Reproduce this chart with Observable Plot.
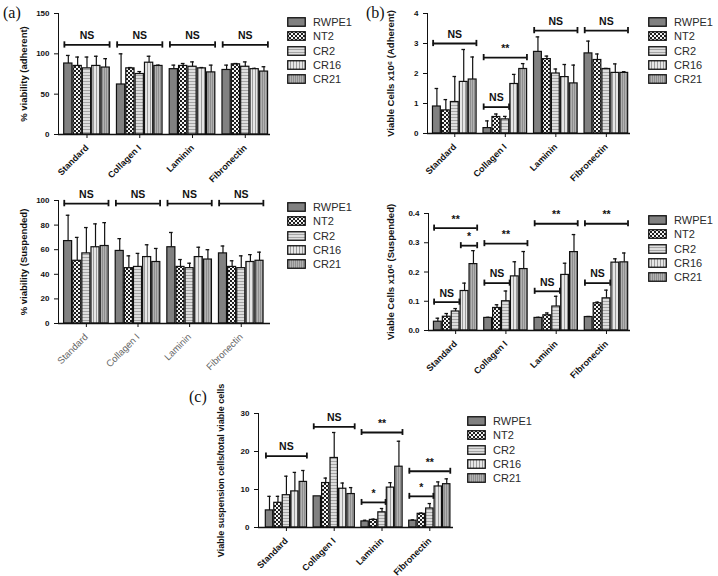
<!DOCTYPE html>
<html><head><meta charset="utf-8">
<script src="https://cdn.jsdelivr.net/npm/d3@7"></script>
<script src="https://cdn.jsdelivr.net/npm/@observablehq/plot@0.6"></script>
<style>
body{margin:0;background:#fff;}
#root{position:relative;width:718px;height:576px;overflow:hidden;font-family:Arial,"Liberation Sans",sans-serif;background:#fff;}
.panel{position:absolute;}
.plab{position:absolute;font-family:"Liberation Serif","Times New Roman",serif;font-size:16px;color:#111;line-height:16px;}
.legend{position:absolute;font-size:11px;color:#2a2a2a;}
.legend .row{display:flex;align-items:center;height:14.3px;}
.legend svg{margin-right:7px;display:block;}
</style></head><body><div id="root">
<svg width="0" height="0" style="position:absolute;left:0;top:0"><defs>
<pattern id="pat0" patternUnits="userSpaceOnUse" width="3" height="3"><rect width="3" height="3" fill="#818181"/></pattern>
<pattern id="pat1" patternUnits="userSpaceOnUse" width="4" height="4"><rect width="4" height="4" fill="#f4f4f4"/><rect width="2" height="2" fill="#1e1e1e"/><rect x="2" y="2" width="2" height="2" fill="#1e1e1e"/></pattern>
<pattern id="pat2" patternUnits="userSpaceOnUse" width="3" height="3"><rect width="3" height="3" fill="#dedede"/><rect width="3" height="1" fill="#a4a4a4"/></pattern>
<pattern id="pat3" patternUnits="userSpaceOnUse" width="3" height="3"><rect width="3" height="3" fill="#e6e6e6"/><rect width="1" height="3" fill="#9c9c9c"/></pattern>
<pattern id="pat4" patternUnits="userSpaceOnUse" width="2" height="2"><rect width="2" height="2" fill="#b2b2b2"/><rect width="1" height="2" fill="#8e8e8e"/></pattern>
</defs></svg>
</div>
<script>
// ---------- DATA ----------
const conditions = ["Standard", "Collagen I", "Laminin", "Fibronectin"];
const cellLines = ["RWPE1", "NT2", "CR2", "CR16", "CR21"];

// (a) top: % viability (adherent)
const aTopMean = [[88,85,82,85,83],[62,82,75,89,85],[81,85,84,82,77],[80,87,84,81,78]];
const aTopSd   = [[10,11,14,12,11],[38,1,3,8,1],[5,3,6,1,9],[6,1,6,1,6]];
const aTopSig  = [
  {cond:"Standard", from:0, to:4, level:111, label:"NS"},
  {cond:"Collagen I", from:0, to:4, level:111, label:"NS"},
  {cond:"Laminin", from:0, to:4, level:111, label:"NS"},
  {cond:"Fibronectin", from:0, to:4, level:111, label:"NS"}];
const aTopTicks = [0,50,100,150];

// (a) bottom: % viability (Suspended)
const aBotMean = [[67,51,57,62,63],[59,45,46,54,50],[62,46,45,54,52],[57,46,45,50,51]];
const aBotSd   = [[21,19,21,19,19],[10,10,11,10,11],[12,6,4,8,8],[6,5,10,6,7]];
const aBotSig  = [
  {cond:"Standard", from:0, to:4, level:97.5, label:"NS"},
  {cond:"Collagen I", from:0, to:4, level:97.5, label:"NS"},
  {cond:"Laminin", from:0, to:4, level:97.5, label:"NS"},
  {cond:"Fibronectin", from:0, to:4, level:97.5, label:"NS"}];
const aBotTicks = [0,20,40,60,80,100];

// (b) top: viable cells x10^6 (Adherent)
const bTopMean = [[0.9,0.77,1.05,1.72,1.8],[0.18,0.55,0.47,1.65,2.15],[2.72,2.48,2.0,1.88,1.67],[2.67,2.45,2.15,2.02,2.02]];
const bTopSd   = [[0.6,0.36,0.85,1.08,0.75],[0.24,0.1,0.1,0.32,0.18],[0.5,0.1,0.15,0.42,0.61],[0.41,0.2,0.02,0.3,0.04]];
const bTopSig  = [
  {cond:"Standard", from:0, to:4, level:3.0, label:"NS"},
  {cond:"Collagen I", from:0, to:2, level:0.88, label:"NS"},
  {cond:"Collagen I", from:0, to:4, level:2.53, label:"**"},
  {cond:"Laminin", from:0, to:4, level:3.43, label:"NS"},
  {cond:"Fibronectin", from:0, to:4, level:3.43, label:"NS"}];
const bTopTicks = [0,1,2,3,4];

// (b) bottom: viable cells x10^6 (Suspended)
const bBotMean = [[0.03,0.047,0.065,0.135,0.227],[0.043,0.077,0.1,0.185,0.21],[0.043,0.052,0.082,0.19,0.268],[0.046,0.093,0.11,0.232,0.233]];
const bBotSd   = [[0.012,0.011,0.01,0.027,0.046],[0.002,0.011,0.035,0.05,0.06],[0.002,0.008,0.035,0.04,0.06],[0.002,0.004,0.028,0.013,0.032]];
const bBotSig  = [
  {cond:"Standard", from:0, to:4, level:0.35, label:"**"},
  {cond:"Standard", from:3, to:4, level:0.29, label:"*"},
  {cond:"Standard", from:0, to:2, level:0.097, label:"NS"},
  {cond:"Collagen I", from:0, to:4, level:0.297, label:"**"},
  {cond:"Collagen I", from:0, to:2, level:0.162, label:"NS"},
  {cond:"Laminin", from:0, to:4, level:0.365, label:"**"},
  {cond:"Laminin", from:0, to:2, level:0.134, label:"NS"},
  {cond:"Fibronectin", from:0, to:4, level:0.365, label:"**"},
  {cond:"Fibronectin", from:0, to:2, level:0.162, label:"NS"}];
const bBotTicks = [0,0.1,0.2,0.3,0.4];

// (c) viable suspension cells / total viable cells
const cMean = [[4.5,6.5,8.5,9.5,12],[8.2,11.7,18.3,10.2,8.8],[1.6,2.0,4.0,10.5,16],[1.8,3.6,5.0,10.8,11.4]];
const cSd   = [[3.7,1.7,5,5,3],[0,1.3,6.7,1.5,1.7],[0.3,0.2,1,1.3,6.7],[0.2,0.2,1.3,1.2,1.4]];
const cSig  = [
  {cond:"Standard", from:0, to:4, level:18.8, label:"NS"},
  {cond:"Collagen I", from:0, to:4, level:26.5, label:"NS"},
  {cond:"Laminin", from:0, to:4, level:25, label:"**"},
  {cond:"Laminin", from:0, to:2, level:6.6, label:"*"},
  {cond:"Fibronectin", from:0, to:4, level:14.8, label:"**"},
  {cond:"Fibronectin", from:0, to:2, level:8.2, label:"*"}];
const cTicks = [0,10,20,30];

// ---------- DRAWING ----------
const STRIDE = 5.65;
const root = document.getElementById("root");

function panel(cfg){
  const data = [];
  conditions.forEach((c,g)=>cellLines.forEach((l,s)=>data.push({cond:c, line:l, g, s, mean:cfg.mean[g][s], sd:cfg.sd[g][s]})));
  const pos = d => d.g*STRIDE + d.s;
  const xmax = 3*STRIDE + 5;
  const yMax = cfg.ticks[cfg.ticks.length-1];
  const cap = yMax*0.026;
  const sig = cfg.sig.map(b=>({...b, g: conditions.indexOf(b.cond)}));
  const sx1 = b => b.g*STRIDE + b.from + 0.08;
  const sx2 = b => b.g*STRIDE + b.to + 0.92;
  const ends = sig.flatMap(b=>[{x:sx1(b), level:b.level},{x:sx2(b), level:b.level}]);
  const marks = [];
  cellLines.forEach((l,s)=>{
    marks.push(Plot.rectY(data.filter(d=>d.s===s), {x1: pos, x2: d=>pos(d)+1, y1: 0, y2: "mean",
      fill: `url(#pat${s})`, stroke: "#111", strokeWidth: 1.2, insetLeft: 0.55, insetRight: 0.55}));
  });
  const eb = data.filter(d=>d.sd>0);
  marks.push(Plot.ruleX(eb, {x: d=>pos(d)+0.5, y1: "mean", y2: d=>d.mean+d.sd, stroke:"#111", strokeWidth:1.2}));
  marks.push(Plot.ruleY(eb, {y: d=>d.mean+d.sd, x1: d=>pos(d)+0.3, x2: d=>pos(d)+0.7, stroke:"#111", strokeWidth:1.3}));
  marks.push(Plot.ruleY(sig, {y: "level", x1: sx1, x2: sx2, stroke:"#111", strokeWidth:1.8}));
  marks.push(Plot.ruleX(ends, {x: "x", y1: d=>d.level-cap, y2: d=>d.level+cap, stroke:"#111", strokeWidth:1.8}));
  marks.push(Plot.text(sig, {x: b=>(sx1(b)+sx2(b))/2, y: "level", text: "label", dy: -9, fontSize: 10.5, fontWeight: "bold", fill:"#111"}));
  marks.push(Plot.ruleY([0], {stroke:"#111", strokeWidth:1.6}));
  const svg = Plot.plot({
    width: cfg.width, height: cfg.height,
    marginLeft: cfg.ml, marginRight: cfg.mr, marginTop: cfg.mt, marginBottom: cfg.mb,
    style: {fontFamily: "Arial, 'Liberation Sans', sans-serif", fontSize: "8px", fontWeight: "bold", color: "#111", background: "transparent", overflow: "visible"},
    x: {domain: [-cfg.lp, xmax + cfg.rp], ticks: conditions.map((c,g)=>g*STRIDE+2.5),
        tickFormat: v => conditions[Math.round((v-2.5)/STRIDE)], tickRotate: -45, tickSize: 4, label: null},
    y: {domain: [0, yMax], ticks: cfg.ticks, tickFormat: cfg.fmt || (v=>String(v)), tickSize: 4, line: true,
        label: cfg.label, labelAnchor: "center", labelArrow: false, labelOffset: cfg.lo},
    marks
  });
  svg.classList.add("panel");
  svg.style.left = cfg.left + "px";
  svg.style.top = cfg.top + "px";
  svg.style.position = "absolute";
  // remove any label arrow
  d3.select(svg).selectAll("text, tspan").each(function(){
    if (this.childElementCount === 0 && /[↑↓]/.test(this.textContent) && this.textContent.length > 3)
      this.textContent = this.textContent.replace(/\s*[↑↓]\s*/g, "");
  });
  const xLabels = d3.select(svg).selectAll("text").filter(function(){return conditions.includes(this.textContent);});
  if (cfg.xGrey) {
    xLabels.attr("fill", "#666").style("font-weight", "normal").style("font-size", "9.5px");
  } else {
    xLabels.style("font-size", "9px");
  }
  d3.select(svg).selectAll("text").filter(function(){return this.textContent === cfg.label;})
    .style("font-size", cfg.lfs || "9.5px");
  root.appendChild(svg);
}

function legend(left, top){
  const div = document.createElement("div");
  div.className = "legend";
  div.style.left = left + "px"; div.style.top = top + "px";
  cellLines.forEach((l,s)=>{
    const row = document.createElement("div"); row.className = "row";
    row.innerHTML = `<svg width="19" height="10"><rect x="0.75" y="0.75" width="17.5" height="8.5" fill="url(#pat${s})" stroke="#111" stroke-width="1.3"/></svg><span>${l}</span>`;
    div.appendChild(row);
  });
  root.appendChild(div);
}
function plabel(text, left, top){
  const d = document.createElement("div"); d.className = "plab"; d.textContent = text;
  d.style.left = left + "px"; d.style.top = top + "px"; root.appendChild(d);
}

panel({mean:aTopMean, sd:aTopSd, sig:aTopSig, ticks:aTopTicks, label:"% viability (adherent)",
  left:0, top:0, width:280, height:188, ml:58, mr:10, mt:13, mb:54, lp:0.55, rp:0.2, lo:38});
panel({mean:aBotMean, sd:aBotSd, sig:aBotSig, ticks:aBotTicks, label:"% viability (Suspended)",
  left:0, top:170, width:285, height:200, ml:58, mr:15, mt:30, mb:47, lp:0.55, rp:0.7, lo:38, xGrey:true});
panel({mean:bTopMean, sd:bTopSd, sig:bTopSig, ticks:bTopTicks, label:"Viable Cells x10⁶ (Adherent)",
  left:360, top:0, width:280, height:188, ml:67, mr:10, mt:13, mb:55, lp:0.55, rp:0.2, lo:40});
panel({mean:bBotMean, sd:bBotSd, sig:bBotSig, ticks:bBotTicks, label:"Viable Cells x10⁶ (Suspended)", fmt: d3.format(".1f"),
  left:360, top:190, width:280, height:195, ml:68, mr:10, mt:23, mb:55, lp:0.55, rp:0.2, lo:41});
panel({mean:cMean, sd:cSd, sig:cSig, ticks:cTicks, label:"Viable suspension cells/total viable cells",
  left:180, top:395, width:280, height:181, ml:78, mr:7, mt:18, mb:49, lp:0.8, rp:0.3, lo:41, lfs:"9px"});

legend(287, 15);
legend(287, 200);
legend(648, 15);
legend(648, 213);
legend(467, 414);

plabel("(a)", 3, 5);
plabel("(b)", 366, 5);
plabel("(c)", 189, 389);
</script></body></html>
